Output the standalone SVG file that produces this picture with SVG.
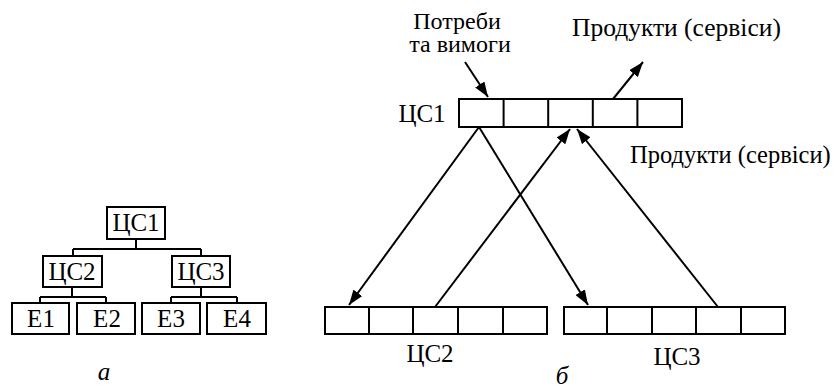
<svg xmlns="http://www.w3.org/2000/svg" width="833" height="390" viewBox="0 0 833 390">
<defs>
<marker id="ah" markerUnits="userSpaceOnUse" markerWidth="15" markerHeight="11" refX="15" refY="5.5" orient="auto" viewBox="0 0 15 11">
<path d="M0,0 L15,5.5 L0,11 z" fill="#000"/>
</marker>
</defs>
<rect width="833" height="390" fill="#fff"/>
<g id="tree-connectors" fill="none" stroke="#000" stroke-width="2">
<path d="M136,239 V249 M73,249 H201 M73,249 V256 M201,249 V256"/>
<path d="M72,287 V297 M40,297 H106 M40,297 V303 M106,297 V303"/>
<path d="M201,287 V297 M171,297 H237 M171,297 V303 M237,297 V303"/>
</g>
<g id="tree-cs1"><rect x="107" y="207" width="58" height="32" fill="#fff" stroke="#000" stroke-width="2"/><text x="136" y="231" font-family="Times New Roman, Liberation Serif, serif" font-size="25" text-anchor="middle">ЦС1</text></g>
<g id="tree-cs2"><rect x="43" y="256" width="59" height="31" fill="#fff" stroke="#000" stroke-width="2"/><text x="72" y="280" font-family="Times New Roman, Liberation Serif, serif" font-size="25" text-anchor="middle">ЦС2</text></g>
<g id="tree-cs3"><rect x="172" y="256" width="58" height="31" fill="#fff" stroke="#000" stroke-width="2"/><text x="201" y="280" font-family="Times New Roman, Liberation Serif, serif" font-size="25" text-anchor="middle">ЦС3</text></g>
<g id="tree-e1"><rect x="12" y="303" width="57" height="31" fill="#fff" stroke="#000" stroke-width="2"/><text x="41" y="327" font-family="Times New Roman, Liberation Serif, serif" font-size="25" text-anchor="middle">E1</text></g>
<g id="tree-e2"><rect x="77" y="303" width="58" height="31" fill="#fff" stroke="#000" stroke-width="2"/><text x="107" y="327" font-family="Times New Roman, Liberation Serif, serif" font-size="25" text-anchor="middle">E2</text></g>
<g id="tree-e3"><rect x="142" y="303" width="58" height="31" fill="#fff" stroke="#000" stroke-width="2"/><text x="171" y="327" font-family="Times New Roman, Liberation Serif, serif" font-size="25" text-anchor="middle">E3</text></g>
<g id="tree-e4"><rect x="207" y="303" width="59" height="31" fill="#fff" stroke="#000" stroke-width="2"/><text x="237" y="327" font-family="Times New Roman, Liberation Serif, serif" font-size="25" text-anchor="middle">E4</text></g>
<text x="104" y="380" font-family="Times New Roman, Liberation Serif, serif" font-size="25" font-style="italic" text-anchor="middle">а</text>
<g id="cs1">
<rect x="459" y="99" width="223" height="28" fill="#fff" stroke="#000" stroke-width="2"/>
<path d="M503.6,99 V127 M548.2,99 V127 M592.8,99 V127 M637.4,99 V127" stroke="#000" stroke-width="2"/>
<text x="422" y="122" font-family="Times New Roman, Liberation Serif, serif" font-size="25" text-anchor="middle">ЦС1</text>
</g>
<g id="cs2">
<rect x="325" y="307" width="222" height="27" fill="#fff" stroke="#000" stroke-width="2"/>
<path d="M369,307 V334 M413,307 V334 M458,307 V334 M503,307 V334" stroke="#000" stroke-width="2"/>
<text x="430" y="362" font-family="Times New Roman, Liberation Serif, serif" font-size="25" text-anchor="middle">ЦС2</text>
</g>
<g id="cs3">
<rect x="564" y="307" width="221" height="27" fill="#fff" stroke="#000" stroke-width="2"/>
<path d="M607,307 V334 M652,307 V334 M696,307 V334 M741,307 V334" stroke="#000" stroke-width="2"/>
<text x="677" y="365" font-family="Times New Roman, Liberation Serif, serif" font-size="25" text-anchor="middle">ЦС3</text>
</g>
<g id="labels">
<text x="457" y="29" font-family="Times New Roman, Liberation Serif, serif" font-size="24" text-anchor="middle">Потреби</text>
<text x="460" y="52" font-family="Times New Roman, Liberation Serif, serif" font-size="24" text-anchor="middle">та вимоги</text>
<text x="572" y="36" font-family="Times New Roman, Liberation Serif, serif" font-size="25.5">Продукти (сервіси)</text>
<text x="630" y="163" font-family="Times New Roman, Liberation Serif, serif" font-size="24.5">Продукти (сервіси)</text>
<text x="562" y="384" font-family="Times New Roman, Liberation Serif, serif" font-size="25" font-style="italic" text-anchor="middle">б</text>
</g>
<g id="connectors" fill="none" stroke="#000" stroke-width="2">
<line x1="465" y1="62" x2="488" y2="97" marker-end="url(#ah)"/>
<line x1="613" y1="99" x2="643" y2="62" marker-end="url(#ah)"/>
<line x1="479" y1="127" x2="349" y2="305" marker-end="url(#ah)"/>
<line x1="479" y1="127" x2="588" y2="305" marker-end="url(#ah)"/>
<line x1="435" y1="307" x2="570" y2="129" marker-end="url(#ah)"/>
<line x1="718" y1="307" x2="577" y2="129" marker-end="url(#ah)"/>
</g>
</svg>
